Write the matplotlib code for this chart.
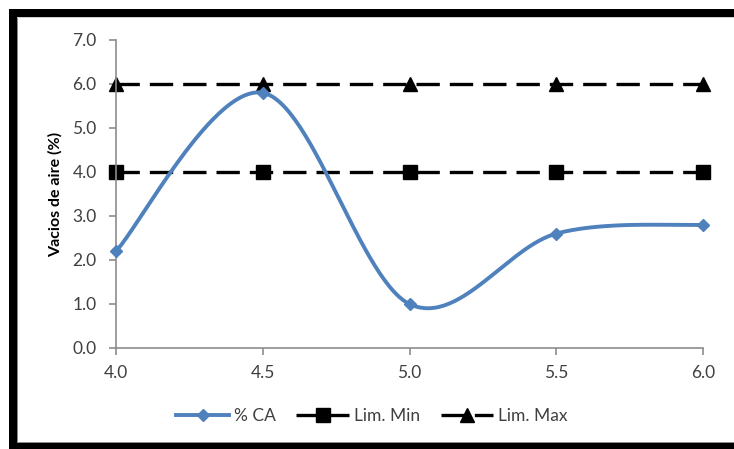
import matplotlib.pyplot as plt
import numpy as np
from matplotlib.patches import Rectangle

# asphalt content (%) and air voids (%)
contenido = [4.0, 4.5, 5.0, 5.5, 6.0]
vacios = [2.2, 5.8, 1.0, 2.6, 2.8]
lim_min = [4.0, 4.0, 4.0, 4.0, 4.0]
lim_max = [6.0, 6.0, 6.0, 6.0, 6.0]
yticks = [0.0, 1.0, 2.0, 3.0, 4.0, 5.0, 6.0, 7.0]
xticks = [4.0, 4.5, 5.0, 5.5, 6.0]

plt.rcParams["font.family"] = ["Lato", "DejaVu Sans"]


def smooth(x, y, n=60):
    """ Cubic Bezier smoothing through every point (spreadsheet style). """
    p = np.column_stack([x, y]).astype(float)
    ext = np.vstack([p[0], p, p[-1]])
    out = []
    t = np.linspace(0, 1, n)[:, None]
    for i in range(len(p) - 1):
        p0, p3 = p[i], p[i + 1]
        c1 = p0 + (ext[i + 2] - ext[i]) / 6.0
        c2 = p3 - (ext[i + 3] - ext[i + 1]) / 6.0
        seg = ((1 - t) ** 3 * p0 + 3 * (1 - t) ** 2 * t * c1
               + 3 * (1 - t) * t ** 2 * c2 + t ** 3 * p3)
        out.append(seg if i == 0 else seg[1:])
    seg = np.vstack(out)
    return seg[:, 0], seg[:, 1]


fig = plt.figure(figsize=(7.34, 4.49), dpi=100, facecolor="white")
W, H = 734.0, 449.0


def frame_bar(x0, y0, x1, y1, color):
    # pixel box measured from the top-left corner
    fig.patches.append(Rectangle((x0 / W, 1 - y1 / H), (x1 - x0) / W, (y1 - y0) / H,
                                 transform=fig.transFigure, facecolor=color,
                                 edgecolor="none", zorder=-10))


# outer frame: thick black on top, left and bottom, open to the right
frame_bar(9, 9, W, 17, "black")
frame_bar(9, 9, 17, H, "black")
frame_bar(9, 443, W, H, "black")
gray = "#8c8c8c"
frame_bar(17, 17, 18, 443, gray)
frame_bar(17, 442, W, 443, gray)
frame_bar(17, 17, W, 18, "#d0d0d0")

ax = fig.add_axes([116 / W, 1 - 348 / H, (703 - 116) / W, (348 - 40) / H])
ax.patch.set_alpha(0)

blue = "#4f81bd"
dash = (0, (7, 3))
xs, ys = smooth(contenido, vacios)
ax.plot(xs, ys, color=blue, lw=2.8, zorder=3, solid_capstyle="round")
ax.plot(contenido, vacios, ls="none", marker="D", ms=6.5, color=blue, zorder=4,
        clip_on=False)
ax.plot([], [], color=blue, lw=2.8, marker="D", ms=6.5, label="% CA")

ax.plot(contenido, lim_min, color="black", lw=2.4, ls=dash,
        marker="s", ms=9.5, zorder=2, label="Lim. Min", clip_on=False)
ax.plot(contenido, lim_max, color="black", lw=2.4, ls=dash,
        marker="^", ms=10, zorder=2, label="Lim. Max", clip_on=False)

ax.set_xlim(4.0, 6.0)
ax.set_ylim(0.0, 7.0)
ax.set_xticks(xticks)
ax.set_yticks(yticks)
ax.set_xticklabels([f"{v:.1f}" for v in xticks])
ax.set_yticklabels([f"{v:.1f}" for v in yticks])
ax.tick_params(colors="#404040", labelsize=12.5, length=5, width=1.2,
               direction="out")
ax.tick_params(axis="both", color=gray)
ax.tick_params(axis="y", pad=9)
ax.tick_params(axis="x", pad=7)
for s in ("top", "right"):
    ax.spines[s].set_visible(False)
for s in ("left", "bottom"):
    ax.spines[s].set_color(gray)
    ax.spines[s].set_linewidth(1.2)
ax.set_ylabel("Vacios de aire (%)", fontsize=11.5, fontweight="bold", labelpad=7)

fig.legend(*ax.get_legend_handles_labels(), loc="center",
           bbox_to_anchor=(372 / W, 1 - 416 / H), ncol=3,
           frameon=False, fontsize=12.5, handlelength=3.0, columnspacing=1.2,
           handletextpad=0.3, labelcolor="#404040")

fig.savefig("out.png", dpi=100)
